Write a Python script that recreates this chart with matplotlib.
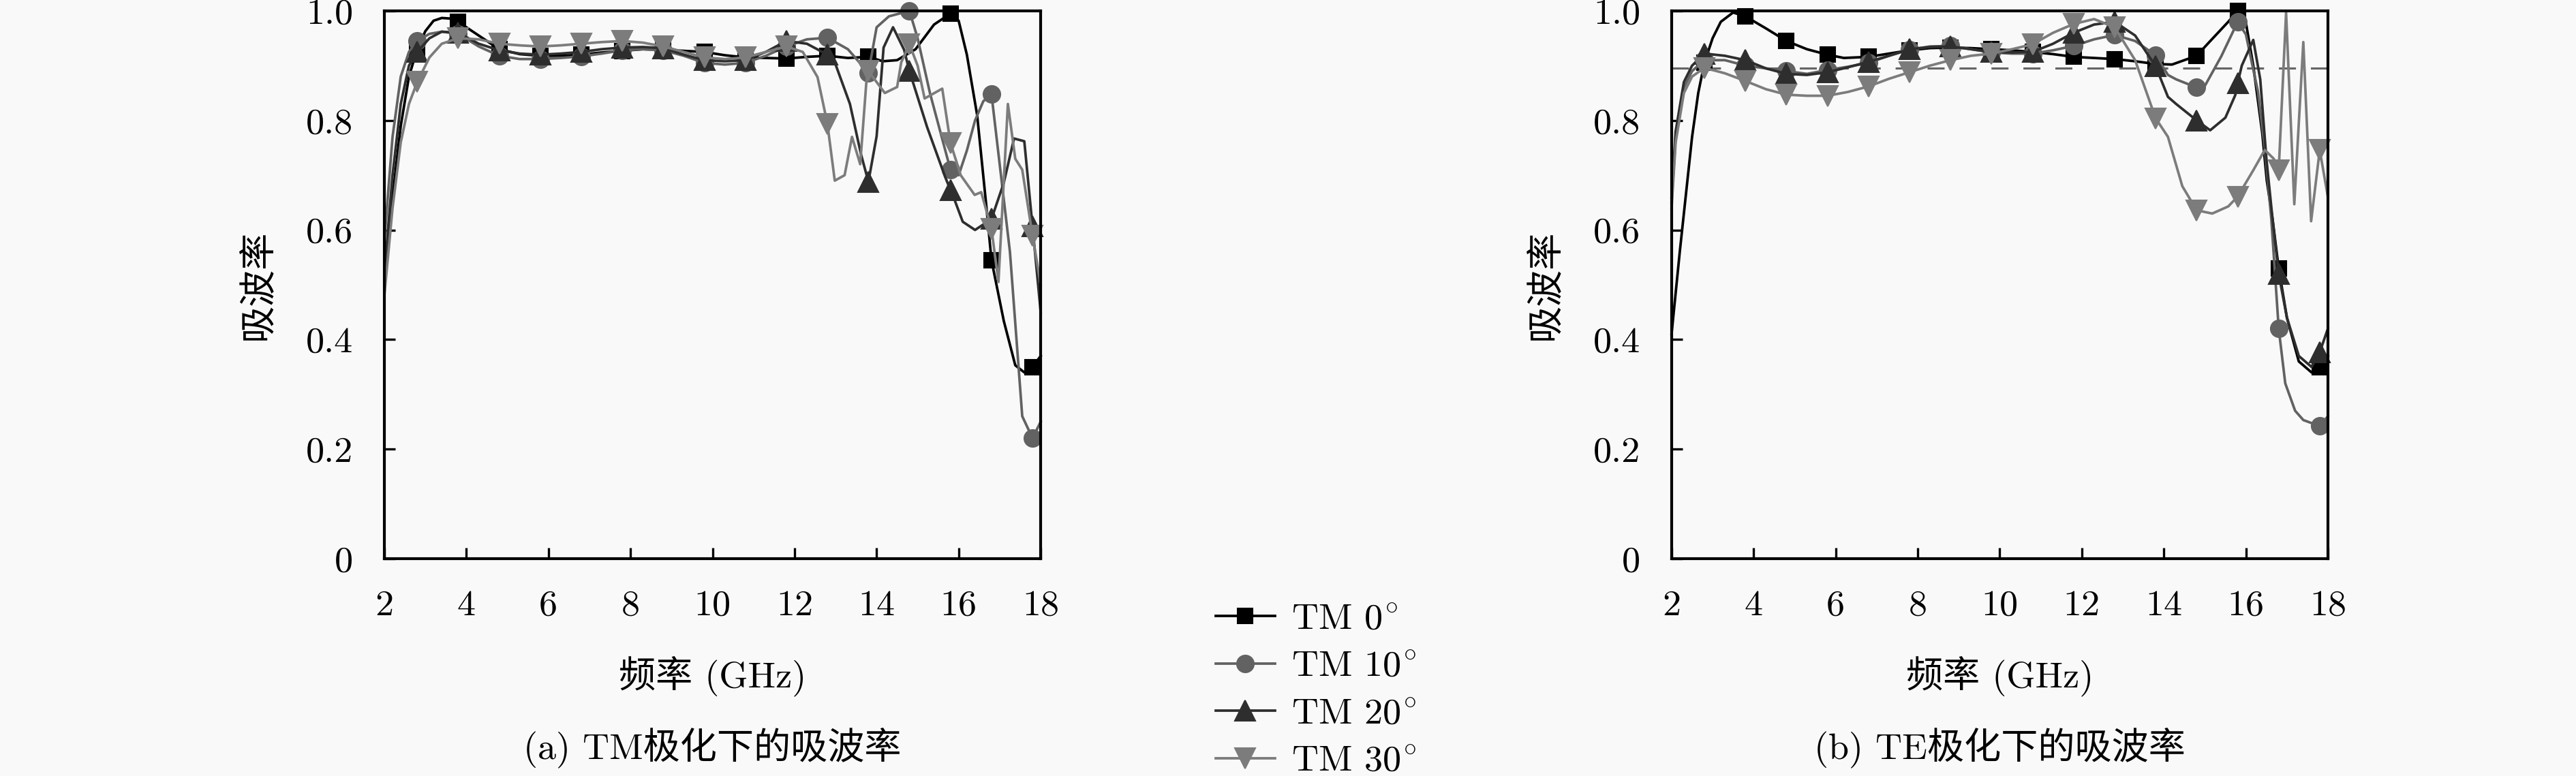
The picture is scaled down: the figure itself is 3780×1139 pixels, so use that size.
import numpy as np
import matplotlib
matplotlib.use('Agg')
import matplotlib.pyplot as plt

plt.rcParams['font.family'] = ['cmr10', 'Noto Sans CJK SC']
plt.rcParams['mathtext.fontset'] = 'cm'
plt.rcParams['axes.unicode_minus'] = False
plt.rcParams['font.size'] = 13

# marker positions (GHz)
mark_x = [2.8, 3.8, 4.8, 5.8, 6.8, 7.8, 8.8, 9.8, 10.8, 11.8, 12.8, 13.8, 14.8, 15.8, 16.8, 17.8]

x_ticks = [2, 4, 6, 8, 10, 12, 14, 16, 18]
y_ticks = [0, 0.2, 0.4, 0.6, 0.8, 1.0]
y_tick_labels = ['0', '0.2', '0.4', '0.6', '0.8', '1.0']

labels = [r'TM $0^{\!\circ}$', r'TM $10^{\!\circ}$', r'TM $20^{\!\circ}$', r'TM $30^{\!\circ}$']
target = 0.895

# (a) TM
tm0_x = [2.0, 2.2, 2.4, 2.6, 2.8, 3.0, 3.2, 3.4, 3.6, 3.8, 4.3, 4.8, 5.3, 5.8, 6.3, 6.8, 7.3, 7.8, 8.3, 8.8,
         9.3, 9.8, 10.3, 10.8, 11.3, 11.8, 12.3, 12.8, 13.3, 13.8, 14.15, 14.5, 14.95, 15.4, 15.8, 16.0,
         16.2, 16.45, 16.67, 16.8, 17.1, 17.38, 17.6, 17.8, 18.0]
tm0_y = [0.50, 0.66, 0.79, 0.88, 0.93, 0.963, 0.982, 0.987, 0.986, 0.98, 0.955, 0.930, 0.921, 0.918, 0.918,
         0.920, 0.924, 0.927, 0.930, 0.929, 0.927, 0.925, 0.919, 0.915, 0.914, 0.913, 0.916, 0.918, 0.914,
         0.916, 0.908, 0.910, 0.930, 0.975, 0.995, 0.982, 0.920, 0.810, 0.647, 0.545, 0.434, 0.353, 0.340,
         0.350, 0.370]

tm10_x = [2.0, 2.2, 2.4, 2.6, 2.8, 3.1, 3.4, 3.8, 4.3, 4.8, 5.3, 5.8, 6.3, 6.8, 7.3, 7.8, 8.3, 8.8, 9.3,
          9.8, 10.3, 10.8, 11.3, 11.8, 12.3, 12.8, 13.3, 13.8, 14.0, 14.3, 14.8, 15.0, 15.3, 15.8, 16.0,
          16.2, 16.4, 16.6, 16.8, 17.0, 17.25, 17.55, 17.8, 18.0]
tm10_y = [0.58, 0.77, 0.88, 0.925, 0.945, 0.958, 0.962, 0.958, 0.935, 0.918, 0.912, 0.912, 0.914, 0.917,
          0.922, 0.928, 0.930, 0.928, 0.918, 0.905, 0.902, 0.905, 0.918, 0.935, 0.948, 0.951, 0.93, 0.887,
          0.97, 0.99, 1.0, 0.95, 0.85, 0.71, 0.70, 0.745, 0.80, 0.835, 0.848, 0.72, 0.56, 0.26, 0.22, 0.25]

tm20_x = [2.0, 2.2, 2.4, 2.6, 2.8, 3.1, 3.4, 3.8, 4.3, 4.8, 5.3, 5.8, 6.3, 6.8, 7.3, 7.8, 8.3, 8.8, 9.3,
          9.8, 10.3, 10.8, 11.3, 11.8, 12.3, 12.8, 13.0, 13.35, 13.62, 13.8, 14.0, 14.17, 14.4, 14.67, 14.8,
          15.23, 15.67, 15.8, 15.9, 16.1, 16.4, 16.8, 17.1, 17.35, 17.6, 17.8, 18.0]
tm20_y = [0.52, 0.70, 0.83, 0.90, 0.925, 0.950, 0.962, 0.960, 0.940, 0.928, 0.922, 0.920, 0.922, 0.925,
          0.930, 0.933, 0.934, 0.932, 0.92, 0.91, 0.908, 0.91, 0.925, 0.945, 0.94, 0.92, 0.902, 0.83, 0.738,
          0.688, 0.771, 0.933, 0.97, 0.929, 0.89, 0.788, 0.697, 0.673, 0.655, 0.615, 0.60, 0.62, 0.686,
          0.767, 0.762, 0.607, 0.45]

tm30_x = [2.0, 2.2, 2.4, 2.6, 2.8, 3.1, 3.4, 3.8, 4.3, 4.8, 5.3, 5.8, 6.3, 6.8, 7.3, 7.8, 8.3, 8.8, 9.3,
          9.8, 10.3, 10.8, 11.3, 11.8, 12.2, 12.56, 12.8, 12.98, 13.22, 13.4, 13.6, 13.75, 13.8, 14.2, 14.5,
          14.6, 14.8, 15.0, 15.17, 15.6, 15.8, 16.05, 16.39, 16.55, 16.8, 16.97, 17.2, 17.38, 17.55, 17.8,
          18.0]
tm30_y = [0.48, 0.64, 0.76, 0.83, 0.87, 0.915, 0.94, 0.95, 0.948, 0.94, 0.937, 0.935, 0.937, 0.94, 0.943,
          0.945, 0.942, 0.935, 0.925, 0.915, 0.912, 0.915, 0.925, 0.935, 0.925, 0.879, 0.794, 0.69, 0.70,
          0.77, 0.72, 0.87, 0.89, 0.85, 0.861, 0.906, 0.939, 0.90, 0.84, 0.858, 0.759, 0.70, 0.664, 0.669,
          0.602, 0.505, 0.83, 0.73, 0.71, 0.59, 0.50]

# (b) TE
te0_x = [2.0, 2.2, 2.4, 2.5, 2.65, 2.8, 3.0, 3.2, 3.5, 3.8, 4.3, 4.8, 5.3, 5.8, 6.2, 6.8, 7.3, 7.8, 8.3,
         8.8, 9.3, 9.8, 10.3, 10.8, 11.3, 11.8, 12.3, 12.8, 13.3, 13.8, 14.2, 14.8, 15.07, 15.57, 15.8,
         15.99, 16.18, 16.4, 16.51, 16.65, 16.8, 17.0, 17.29, 17.6, 17.8, 18.0]
te0_y = [0.41, 0.56, 0.70, 0.77, 0.85, 0.905, 0.95, 0.98, 0.997, 0.99, 0.968, 0.945, 0.93, 0.92, 0.914,
         0.916, 0.922, 0.928, 0.932, 0.933, 0.932, 0.93, 0.928, 0.925, 0.921, 0.916, 0.914, 0.912, 0.908,
         0.903, 0.902, 0.918, 0.94, 0.98, 1.0, 0.983, 0.90, 0.776, 0.69, 0.62, 0.53, 0.44, 0.36, 0.34,
         0.35, 0.37]

te10_x = [2.0, 2.1, 2.3, 2.5, 2.8, 3.3, 3.8, 4.3, 4.8, 5.3, 5.8, 6.3, 6.8, 7.3, 7.8, 8.3, 8.8, 9.3, 9.8,
          10.3, 10.8, 11.3, 11.8, 12.3, 12.8, 13.3, 13.8, 14.1, 14.3, 14.8, 15.0, 15.4, 15.8, 16.0, 16.29,
          16.46, 16.62, 16.8, 16.96, 17.2, 17.4, 17.8, 18.0]
te10_y = [0.65, 0.77, 0.86, 0.89, 0.91, 0.91, 0.90, 0.895, 0.89, 0.885, 0.892, 0.898, 0.905, 0.918, 0.929,
          0.935, 0.936, 0.93, 0.924, 0.922, 0.922, 0.928, 0.936, 0.948, 0.956, 0.945, 0.919, 0.883, 0.875,
          0.86, 0.863, 0.917, 0.98, 0.957, 0.854, 0.75, 0.62, 0.42, 0.32, 0.27, 0.253, 0.242, 0.26]

te20_x = [2.0, 2.1, 2.3, 2.5, 2.8, 3.3, 3.8, 4.3, 4.8, 5.3, 5.8, 6.3, 6.8, 7.3, 7.8, 8.3, 8.8, 9.3, 9.8,
          10.3, 10.8, 11.3, 11.8, 12.3, 12.8, 13.3, 13.8, 14.1, 14.3, 14.8, 15.13, 15.5, 15.74, 15.8, 15.9,
          16.18, 16.35, 16.5, 16.65, 16.8, 17.0, 17.29, 17.6, 17.8, 18.0]
te20_y = [0.66, 0.78, 0.87, 0.90, 0.922, 0.918, 0.91, 0.895, 0.885, 0.883, 0.888, 0.897, 0.907, 0.918,
          0.93, 0.934, 0.935, 0.93, 0.925, 0.924, 0.925, 0.94, 0.96, 0.975, 0.98, 0.955, 0.899, 0.843, 0.83,
          0.80, 0.782, 0.805, 0.846, 0.868, 0.90, 0.947, 0.875, 0.73, 0.62, 0.52, 0.44, 0.37, 0.35, 0.377,
          0.42]

te30_x = [2.0, 2.1, 2.3, 2.5, 2.8, 3.3, 3.8, 4.3, 4.8, 5.3, 5.8, 6.3, 6.8, 7.3, 7.8, 8.3, 8.8, 9.3, 9.8,
          10.3, 10.8, 11.3, 11.8, 12.3, 12.8, 13.3, 13.8, 14.1, 14.45, 14.8, 15.18, 15.57, 15.8, 16.18,
          16.46, 16.68, 16.8, 16.98, 17.18, 17.4, 17.59, 17.8, 18.0]
te30_y = [0.64, 0.76, 0.85, 0.88, 0.896, 0.886, 0.872, 0.857, 0.847, 0.845, 0.845, 0.852, 0.862, 0.876,
          0.888, 0.90, 0.91, 0.918, 0.922, 0.93, 0.939, 0.96, 0.976, 0.985, 0.97, 0.91, 0.804, 0.77, 0.68,
          0.636, 0.63, 0.643, 0.661, 0.709, 0.746, 0.73, 0.709, 0.997, 0.647, 0.943, 0.616, 0.746, 0.66]

colors = ['#000000', '#626262', '#2e2e2e', '#7c7c7c']
markers = ['s', 'o', '^', 'v']
msizes = [5.5, 6.0, 7.0, 7.0]
bg = '#f9f9f9'


def draw(ax, series):
    for i, (xs, ys) in enumerate(series):
        idx = [j for j, v in enumerate(xs) if np.isclose(v, mark_x).any()]
        ax.plot(xs, ys, color=colors[i], lw=0.9, marker=markers[i], ms=msizes[i],
                mec=colors[i], mfc=colors[i], mew=0.5, markevery=idx, clip_on=False,
                label=labels[i])
    ax.set_xlim(2, 18)
    ax.set_ylim(0, 1.0)
    ax.set_xticks(x_ticks)
    ax.set_yticks(y_ticks)
    ax.set_yticklabels(y_tick_labels)
    ax.tick_params(direction='in', length=3.8, width=0.8, pad=11, labelsize=13,
                   top=False, right=False)
    for s in ax.spines.values():
        s.set_linewidth(1.0)
    ax.set_facecolor(bg)
    ax.set_xlabel('频率 (GHz)', labelpad=12)
    ax.set_ylabel('吸波率', labelpad=11)


fig = plt.figure(figsize=(12.6, 3.7967), dpi=300, facecolor=bg)
ax1 = fig.add_axes([0.1492, 0.2801, 0.2548, 0.7059])
ax2 = fig.add_axes([0.6489, 0.2801, 0.2548, 0.7059])

draw(ax1, [(tm0_x, tm0_y), (tm10_x, tm10_y), (tm20_x, tm20_y), (tm30_x, tm30_y)])
ax2.axhline(target, color='#666666', lw=0.75, dashes=(8, 7))
draw(ax2, [(te0_x, te0_y), (te10_x, te10_y), (te20_x, te20_y), (te30_x, te30_y)])

fig.text(0.2766, 1 - 1097 / 1139, '(a) TM极化下的吸波率', ha='center', va='center', fontsize=13)
fig.text(0.7763, 1 - 1097 / 1139, '(b) TE极化下的吸波率', ha='center', va='center', fontsize=13)

handles, _ = ax1.get_legend_handles_labels()
fig.legend(handles, labels, loc='upper left', bbox_to_anchor=(0.472, 0.223), frameon=False,
           fontsize=13, handlelength=1.6, handletextpad=0.45, labelspacing=0.4,
           borderpad=0, borderaxespad=0, markerscale=1.0)

fig.savefig('out.png', dpi=300, facecolor=bg)
